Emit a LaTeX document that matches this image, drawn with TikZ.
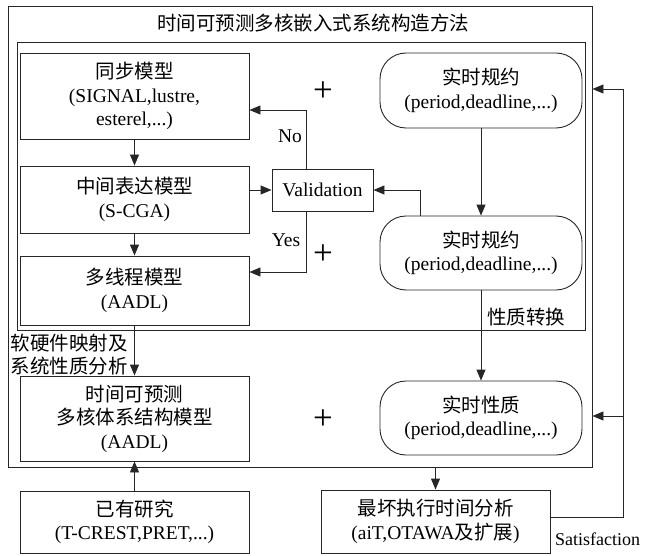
\documentclass[tikz,border=0pt]{standalone}
\usepackage{fontspec}
\setmainfont{Liberation Serif}
\newfontfamily\cjk{Noto Sans CJK SC}
\usetikzlibrary{arrows.meta,calc}
\newcommand\zh[1]{{\cjk #1}}
\begin{document}
\begin{tikzpicture}[x=1pt,y=-1pt,
  every node/.style={font=\fontsize{19.5}{23.5}\selectfont},
  ln/.style={line width=0.9pt, draw=black!85},
  sq/.style={ln, rectangle, inner sep=0pt, align=center, minimum width=229pt},
  rr/.style={ln, rectangle, rounded corners=26pt, inner sep=0pt, align=center, minimum width=202pt},
  arr/.style={ln, -{Triangle[length=11pt,width=9pt]}},
  plus/.style={font=\fontsize{35}{35}\selectfont, inner sep=0pt},
  lbl/.style={inner sep=0pt, align=left}
]
\useasboundingbox (0,0) rectangle (647,556);

% frames
\node[sq, minimum width=584pt, minimum height=461pt] (outer) at (300,236.5) {};
\node[sq, minimum width=568pt, minimum height=288pt] (inner) at (301,186) {};
\node (title) at (313,23) {\zh{时间可预测多核嵌入式系统构造方法}};

% left column
\node[sq, minimum height=86pt] (b1) at (134.5,96) {\zh{同步模型}\\(SIGNAL,lustre,\\esterel,...)};
\node[sq, minimum height=67pt] (b2) at (134.5,199.5) {\zh{中间表达模型}\\(S-CGA)};
\node[sq, minimum height=69pt] (b3) at (134.5,290.5) {\zh{多线程模型}\\(AADL)};
\node[sq, minimum height=85pt] (b4) at (134.5,418.5) {\zh{时间可预测}\\\zh{多核体系结构模型}\\(AADL)};
\node[sq, minimum height=62pt] (b5) at (134.5,522) {\zh{已有研究}\\(T-CREST,PRET,...)};
\node[sq, minimum height=63pt] (b6) at (435.5,521.5) {\zh{最坏执行时间分析}\\(aiT,OTAWA\zh{及扩展})};
\node[sq, minimum width=101pt, minimum height=42pt] (val) at (322.5,190) {Validation};

% right column
\node[rr, minimum height=75pt] (r1) at (481,90.5) {\zh{实时规约}\\(period,deadline,...)};
\node[rr, minimum height=74pt] (r2) at (481,253) {\zh{实时规约}\\(period,deadline,...)};
\node[rr, minimum height=74pt] (r3) at (481,418) {\zh{实时性质}\\(period,deadline,...)};

% plus signs
\node[plus] (p1) at (323,92) {+};
\node[plus] (p2) at (323,255) {+};
\node[plus] (p3) at (323,420) {+};

% labels
\node[lbl] (no) at (290,136) {No};
\node[lbl] (yes) at (286,240) {Yes};
\node[lbl] (xz) at (526,317) {\zh{性质转换}};
\node[lbl] (map) at (69,354.5) {\zh{软硬件映射及}\\\zh{系统性质分析}};
\node[lbl, anchor=base west, font=\fontsize{18}{20}\selectfont] (sat) at (555,545) {Satisfaction};

% connectors
\draw[arr] (b1.south) -- (b2.north);
\draw[arr] (b2.south) -- (b3.north);
\draw[arr] (b3.south) -- (b4.north);
\draw[arr] (b5.north) -- (b4.south);
\draw[arr] (b2.east |- val.west) -- (val.west);
\draw[arr] ($(val.north)+(-16.5,0)$) |- ($(b1.east)+(0,14)$);
\draw[arr] ($(val.south)+(-16.5,0)$) |- ($(b3.east)+(0,-18.5)$);
\draw[arr] ($(r2.north)+(-61,0)$) |- (val.east);
\draw[arr] (r1.south) -- (r2.north);
\draw[arr] (r2.south) -- (r3.north);
\draw[arr] (b6.north |- outer.south) -- (b6.north);
\coordinate (fbt) at (623,89);
\coordinate (fbm) at (623,416);
\draw[arr] ($(b6.east)+(0,-4)$) -| (fbt) -- (outer.east |- fbt);
\draw[arr] (fbm) -- (outer.east |- fbm);
\end{tikzpicture}
\end{document}
